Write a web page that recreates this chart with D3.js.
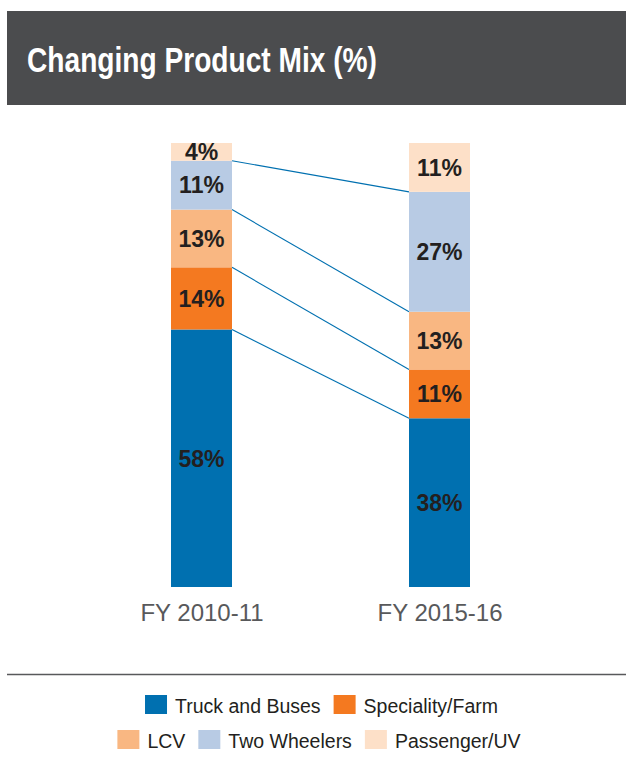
<!DOCTYPE html>
<html>
<head>
<meta charset="utf-8">
<script src="https://cdn.jsdelivr.net/npm/d3@7"></script>
<style>
  html, body { margin: 0; padding: 0; background: #ffffff; }
  svg { display: block; }
</style>
</head>
<body>
<svg id="chart" width="626" height="762"></svg>
<script>
// Product mix by segment, share of total (%)
const years = ["FY 2010-11", "FY 2015-16"];
const segments = ["Truck and Buses", "Speciality/Farm", "LCV", "Two Wheelers", "Passenger/UV"];
const truckBuses   = [58, 38];
const specialty    = [14, 11];
const lcv          = [13, 13];
const twoWheelers  = [11, 27];
const passengerUV  = [4, 11];
const segmentColors = ["#0070b0", "#f47920", "#f9b782", "#b8cbe4", "#fde0c8"];
const legendRows = [["Truck and Buses", "Speciality/Farm"], ["LCV", "Two Wheelers", "Passenger/UV"]];

const seriesValues = [truckBuses, specialty, lcv, twoWheelers, passengerUV];
const table = years.map((y, i) => {
  const row = { year: y };
  segments.forEach((s, k) => { row[s] = seriesValues[k][i]; });
  return row;
});

const svg = d3.select("#chart");

// Title band
svg.append("rect")
  .attr("x", 7).attr("y", 11).attr("width", 619).attr("height", 94)
  .attr("fill", "#4b4c4e");
svg.append("text")
  .attr("x", 27).attr("y", 72)
  .attr("fill", "#ffffff")
  .attr("font-family", "'Liberation Sans Narrow', 'Liberation Sans', Arial, sans-serif")
  .attr("font-weight", "bold")
  .attr("font-size", 35)
  .attr("textLength", 350)
  .attr("lengthAdjust", "spacingAndGlyphs")
  .text("Changing Product Mix (%)");

// Scales
const x = d3.scalePoint().domain(years).range([201.5, 439.5]);
const barW = 61;
const y = d3.scaleLinear().domain([0, 100]).range([587, 143]);
const color = d3.scaleOrdinal().domain(segments).range(segmentColors);

const stacked = d3.stack().keys(segments)(table);

// Connector lines between the tops of matching segments
const connectors = stacked.slice(0, segments.length - 1);
svg.append("g")
  .selectAll("line")
  .data(connectors)
  .join("line")
  .attr("x1", x(years[0]) + barW / 2)
  .attr("x2", x(years[1]) - barW / 2)
  .attr("y1", d => y(d[0][1]))
  .attr("y2", d => y(d[1][1]))
  .attr("stroke", "#0070b0")
  .attr("stroke-width", 1.1);

// Stacked bars
const layers = svg.append("g")
  .selectAll("g")
  .data(stacked)
  .join("g")
  .attr("fill", d => color(d.key));

layers.selectAll("rect")
  .data(d => d)
  .join("rect")
  .attr("x", d => x(d.data.year) - barW / 2)
  .attr("width", barW)
  .attr("y", d => y(d[1]))
  .attr("height", d => y(d[0]) - y(d[1]));

// Value labels
layers.selectAll("text")
  .data(d => d.map(v => ({ v, key: d.key })))
  .join("text")
  .attr("x", d => x(d.v.data.year))
  .attr("y", d => (y(d.v[0]) + y(d.v[1])) / 2)
  .attr("dy", "0.36em")
  .attr("text-anchor", "middle")
  .attr("fill", "#231f20")
  .attr("font-family", "'Liberation Sans', Arial, sans-serif")
  .attr("font-weight", "bold")
  .attr("font-size", 23)
  .text(d => d.v.data[d.key] + "%");

// Category axis
const xAxis = svg.append("g")
  .attr("transform", "translate(0,600)")
  .call(d3.axisBottom(x).tickSize(0).tickPadding(0));
xAxis.select(".domain").remove();
xAxis.selectAll("text")
  .attr("y", 21)
  .attr("dy", 0)
  .attr("fill", "#58595b")
  .attr("font-family", "'Liberation Sans', Arial, sans-serif")
  .attr("font-size", 24);

// Separator rule
svg.append("line")
  .attr("x1", 7).attr("x2", 626)
  .attr("y1", 674.5).attr("y2", 674.5)
  .attr("stroke", "#58595b")
  .attr("stroke-width", 1.5);

// Legend
const swW = 22, swH = 19, swGap = 8, itemGap = 13;
const rowBaselines = [713, 748];
const rowCenters = [321.5, 319];
legendRows.forEach((names, r) => {
  const row = svg.append("g");
  let cx = 0;
  names.forEach(name => {
    const item = row.append("g").attr("transform", `translate(${cx},0)`);
    item.append("rect")
      .attr("x", 0).attr("y", rowBaselines[r] - 18)
      .attr("width", swW).attr("height", swH)
      .attr("fill", color(name));
    const t = item.append("text")
      .attr("x", swW + swGap).attr("y", rowBaselines[r])
      .attr("fill", "#231f20")
      .attr("font-family", "'Liberation Sans', Arial, sans-serif")
      .attr("font-size", 19.5)
      .text(name);
    cx += swW + swGap + t.node().getComputedTextLength() + itemGap;
  });
  const total = cx - itemGap;
  row.attr("transform", `translate(${rowCenters[r] - total / 2},0)`);
});
</script>
</body>
</html>
